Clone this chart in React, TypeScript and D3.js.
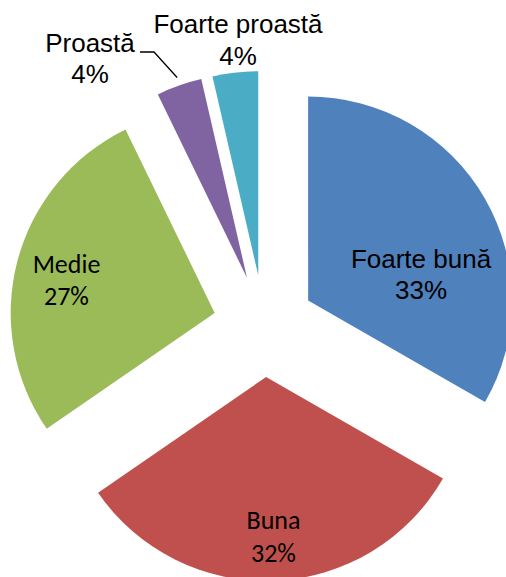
import React from "react";
import * as d3 from "d3";

const categories = ["Foarte bună", "Buna", "Medie", "Proastă", "Foarte proastă"];
const values = [33.3, 32.1, 27.4, 3.6, 3.6];
const colors = ["#4F81BD", "#C0504D", "#9BBB59", "#8064A2", "#4BACC6"];

const W = 506;
const H = 577;
const CX = 264;
const CY = 326;
const R = 204;
const EXPLODE = 51;

// label layout: [x, y of first baseline], font family, line gap
const ARIAL = "'Liberation Sans', Arial, sans-serif";
const CALIBRI = "Carlito, Lato, 'Open Sans', sans-serif";
const labelLayout = [
  { x: 421, y: 268, font: ARIAL, gap: 31 },
  { x: 273.5, y: 529, font: CALIBRI, gap: 33 },
  { x: 66.5, y: 273, font: CALIBRI, gap: 32 },
  { x: 90, y: 52, font: ARIAL, gap: 31 },
  { x: 238, y: 33, font: ARIAL, gap: 32 },
];

export default function App() {
  const total = d3.sum(values);
  const pie = d3
    .pie<number>()
    .sort(null)
    .startAngle(0)
    .endAngle(2 * Math.PI)
    .value((d) => d);
  const arcs = pie(values);
  const arc = d3.arc<d3.PieArcDatum<number>>().innerRadius(0).outerRadius(R);

  const offsets = arcs.map((a) => {
    const mid = (a.startAngle + a.endAngle) / 2;
    return [CX + EXPLODE * Math.sin(mid), CY - EXPLODE * Math.cos(mid)];
  });

  // leader line for Proastă (index 3)
  const pa = arcs[3];
  const pMid = (pa.startAngle + pa.endAngle) / 2;
  const pOuter = [
    offsets[3][0] + R * Math.sin(pMid),
    offsets[3][1] - R * Math.cos(pMid),
  ];

  return (
    <svg
      width={W}
      height={H}
      style={{ position: "absolute", left: 0, top: 0, background: "#fff" }}
    >
      {arcs.map((a, i) => (
        <path
          key={categories[i]}
          d={arc(a) || ""}
          fill={colors[i]}
          transform={`translate(${offsets[i][0]},${offsets[i][1]})`}
        />
      ))}
      <polyline
        points={`140,52 154,52 ${pOuter[0] - 2},${pOuter[1] - 8}`}
        fill="none"
        stroke="#000"
        strokeWidth={1.3}
      />
      {arcs.map((a, i) => {
        const L = labelLayout[i];
        const pct = Math.round((values[i] / total) * 100) + "%";
        return (
          <text
            key={"t" + i}
            x={L.x}
            y={L.y}
            textAnchor="middle"
            fontFamily={L.font}
            fontSize={26}
            fill="#000"
          >
            <tspan x={L.x} y={L.y}>
              {categories[i]}
            </tspan>
            <tspan x={L.x} y={L.y + L.gap}>
              {pct}
            </tspan>
          </text>
        );
      })}
    </svg>
  );
}
